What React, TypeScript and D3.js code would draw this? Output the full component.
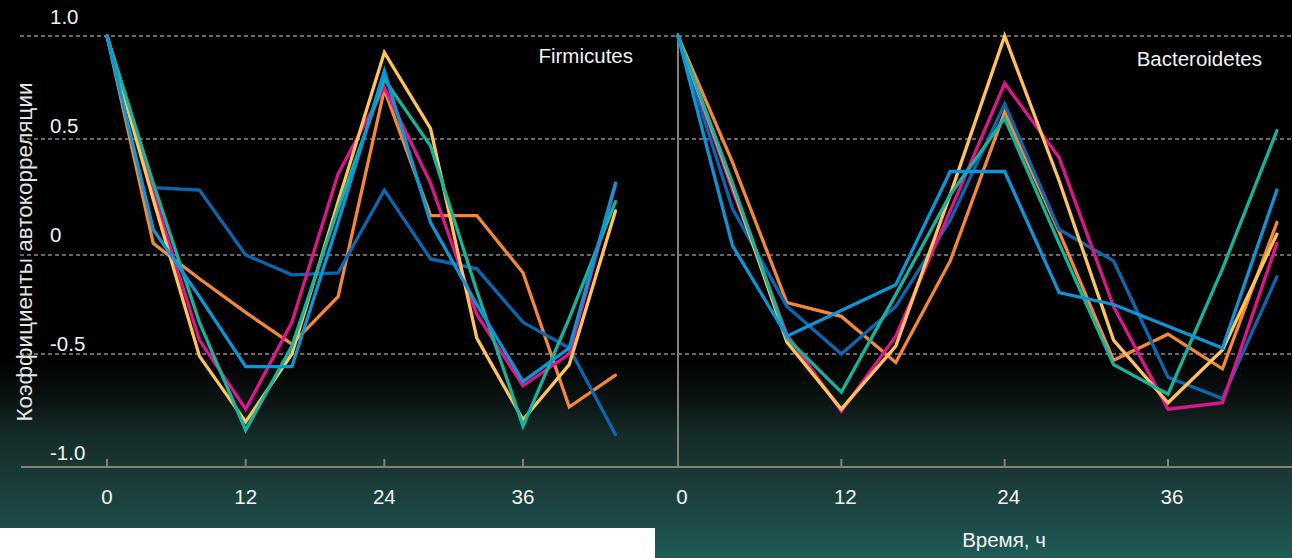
import React from "react";
import * as d3 from "d3";

// Sampling times, hours
const HOURS = [0, 4, 8, 12, 16, 20, 24, 28, 32, 36, 40, 44];
const X_TICKS = [0, 12, 24, 36];
const Y_TICKS = [1, 0.5, 0, -0.5, -1];
const Y_TICK_LABELS = ["1.0", "0.5", "0", "-0.5", "-1.0"];
const Y_GRID = [1, 0.5, 0, -0.5];

const SERIES_KEYS = ["orange", "darkBlue", "magenta", "yellow", "teal", "lightBlue"];
const SERIES_COLORS: Record<string, string> = {
  orange: "#f5873a",
  darkBlue: "#0b67b0",
  magenta: "#dc168c",
  yellow: "#ffc35a",
  teal: "#17b39c",
  lightBlue: "#0b96d8",
};

// Firmicutes autocorrelation coefficients
const firmOrange = [1.0, 0.05, -0.12, -0.29, -0.45, -0.21, 0.74, 0.17, 0.17, -0.09, -0.75, -0.6];
const firmDarkBlue = [1.0, 0.29, 0.28, 0.0, -0.1, -0.09, 0.28, -0.02, -0.07, -0.34, -0.47, -0.88];
const firmMagenta = [1.0, 0.27, -0.43, -0.76, -0.34, 0.35, 0.75, 0.31, -0.3, -0.65, -0.5, 0.3];
const firmYellow = [1.0, 0.24, -0.51, -0.82, -0.5, 0.23, 0.92, 0.55, -0.42, -0.81, -0.55, 0.19];
const firmTeal = [1.0, 0.31, -0.34, -0.86, -0.46, 0.2, 0.79, 0.47, -0.18, -0.84, -0.32, 0.23];
const firmLightBlue = [1.0, 0.11, -0.21, -0.56, -0.56, 0.14, 0.83, 0.14, -0.25, -0.63, -0.47, 0.31];

// Bacteroidetes autocorrelation coefficients
const bactOrange = [1.0, 0.4, -0.24, -0.31, -0.54, -0.03, 0.63, 0.1, -0.53, -0.4, -0.57, 0.14];
const bactDarkBlue = [1.0, 0.2, -0.26, -0.5, -0.26, 0.15, 0.67, 0.11, -0.03, -0.61, -0.71, -0.11];
const bactMagenta = [1.0, 0.28, -0.4, -0.77, -0.41, 0.19, 0.77, 0.42, -0.26, -0.76, -0.73, 0.05];
const bactYellow = [1.0, 0.3, -0.44, -0.76, -0.46, 0.26, 1.0, 0.32, -0.43, -0.73, -0.48, 0.09];
const bactTeal = [1.0, 0.31, -0.42, -0.68, -0.2, 0.26, 0.6, 0.05, -0.55, -0.69, -0.07, 0.54];
const bactLightBlue = [1.0, 0.04, -0.41, -0.28, -0.15, 0.36, 0.36, -0.19, -0.25, -0.36, -0.47, 0.28];

const W = 1292;
const H = 558;
const FONT = "'Liberation Sans', Arial, Helvetica, sans-serif";

const yScale = d3.scaleLinear().domain([-1, -0.5, 0, 0.5, 1]).range([460, 354, 255, 139, 36]);
const yLabelScale = d3.scaleLinear().domain([-1, 1]).range([460, 24]);
const AXIS_Y = 467;

const panels = [
  {
    name: "Firmicutes",
    x: d3.scaleLinear().domain([0, 36]).range([107, 523]),
    nameX: 633,
    nameY: 63,
    yAxis: false,
    series: {
      orange: firmOrange,
      darkBlue: firmDarkBlue,
      magenta: firmMagenta,
      yellow: firmYellow,
      teal: firmTeal,
      lightBlue: firmLightBlue,
    } as Record<string, number[]>,
  },
  {
    name: "Bacteroidetes",
    x: d3.scaleLinear().domain([0, 36]).range([678, 1168]),
    nameX: 1262,
    nameY: 66,
    yAxis: true,
    series: {
      orange: bactOrange,
      darkBlue: bactDarkBlue,
      magenta: bactMagenta,
      yellow: bactYellow,
      teal: bactTeal,
      lightBlue: bactLightBlue,
    } as Record<string, number[]>,
  },
];

export default function App() {
  return (
    <div style={{ position: "absolute", left: 0, top: 0 }}>
      <svg width={W} height={H} style={{ display: "block", fontFamily: FONT }}>
        <defs>
          <linearGradient id="bg" gradientUnits="userSpaceOnUse" x1="0" y1="0" x2="0" y2={H}>
            <stop offset="0" stopColor="#000000" />
            <stop offset="0.64" stopColor="#000000" />
            <stop offset="0.72" stopColor="#0b1513" />
            <stop offset="0.78" stopColor="#152c29" />
            <stop offset="0.85" stopColor="#1a3936" />
            <stop offset="0.92" stopColor="#1d4745" />
            <stop offset="1" stopColor="#1f5b58" />
          </linearGradient>
        </defs>
        <rect x={0} y={0} width={W} height={528} fill="url(#bg)" />
        <rect x={655} y={528} width={W - 655} height={H - 528} fill="url(#bg)" />

        {/* dashed grid */}
        {Y_GRID.map((v) => (
          <line
            key={v}
            x1={20}
            x2={W}
            y1={yScale(v)}
            y2={yScale(v)}
            stroke="#8c8c8c"
            strokeWidth={1.3}
            strokeDasharray="4 3"
          />
        ))}

        {/* y tick labels */}
        {Y_TICKS.map((v, i) => (
          <text key={v} x={50} y={yLabelScale(v)} fill="#f2f2f2" fontSize={20.5}>
            {Y_TICK_LABELS[i]}
          </text>
        ))}

        {/* y axis title */}
        <text
          transform={`translate(32, 252) rotate(-90)`}
          textAnchor="middle"
          fill="#e6e6e6"
          fontSize={22.5}
        >
          Коэффициенты автокорреляции
        </text>

        {/* x axis baseline */}
        <line x1={21} x2={W} y1={AXIS_Y} y2={AXIS_Y} stroke="#857f79" strokeWidth={2} />

        {panels.map((p) => {
          const line = d3
            .line<number>()
            .x((_, i) => p.x(HOURS[i]))
            .y((d) => yScale(d));
          return (
            <g key={p.name}>
              {p.yAxis && (
                <line
                  x1={p.x(0)}
                  x2={p.x(0)}
                  y1={33}
                  y2={AXIS_Y}
                  stroke="#857f79"
                  strokeWidth={2}
                />
              )}
              {X_TICKS.map((t) => (
                <g key={t}>
                  {!(p.yAxis && t === 0) && (
                    <line
                      x1={p.x(t)}
                      x2={p.x(t)}
                      y1={AXIS_Y - 8}
                      y2={AXIS_Y}
                      stroke="#857f79"
                      strokeWidth={2}
                    />
                  )}
                  <text
                    x={p.x(t) + (p.yAxis ? 4 : 0)}
                    y={504}
                    textAnchor="middle"
                    fill="#f2f2f2"
                    fontSize={20.5}
                  >
                    {t}
                  </text>
                </g>
              ))}
              {SERIES_KEYS.map((k) => (
                <path
                  key={k}
                  d={line(p.series[k]) || ""}
                  fill="none"
                  stroke={SERIES_COLORS[k]}
                  strokeWidth={3.3}
                  strokeLinejoin="miter"
                  strokeLinecap="round"
                />
              ))}
              <text x={p.nameX} y={p.nameY} textAnchor="end" fill="#f2f2f2" fontSize={20.5}>
                {p.name}
              </text>
            </g>
          );
        })}

        {/* x axis title */}
        <text x={1004} y={547} textAnchor="middle" fill="#f2f2f2" fontSize={20.5}>
          Время, ч
        </text>
      </svg>
    </div>
  );
}
